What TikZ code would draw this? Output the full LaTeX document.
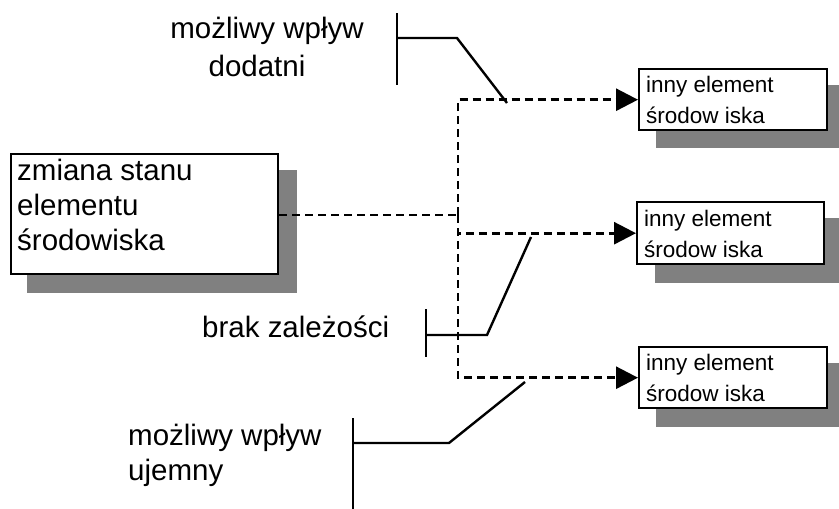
\documentclass[tikz,border=0pt]{standalone}
\usepackage{fontspec}
\setmainfont{Liberation Sans}
\usetikzlibrary{arrows.meta}
\newcommand\bigtxt{\fontsize{29.5}{35}\selectfont}
\newcommand\smalltxt{\fontsize{22.5}{31}\selectfont}
\tikzset{
  shadowbox/.style={fill=black!50,draw=none},
  bigbox/.style={draw=black,line width=2.4pt,fill=white,inner sep=0pt,anchor=north west},
  smallbox/.style={draw=black,line width=2.4pt,fill=white,inner sep=0pt,anchor=north west,minimum width=188pt,minimum height=61pt},
  btext/.style={inner sep=0pt,anchor=base west,font=\bigtxt},
  stext/.style={inner sep=0pt,anchor=base west,font=\smalltxt},
  flow/.style={line width=2.8pt,dash pattern=on 8pt off 5pt},
  flowarrow/.style={flow,-{Triangle[length=22pt,width=22pt]}},
  leader/.style={line width=2.4pt}
}
\begin{document}
\begin{tikzpicture}[x=1pt,y=-1pt]
\useasboundingbox (0,0) rectangle (839,509);
% shadows
\fill[shadowbox] (27,170) rectangle (297,293);
\fill[shadowbox] (656,85) rectangle (845,148);
\fill[shadowbox] (655,218) rectangle (845,283);
\fill[shadowbox] (656,363) rectangle (845,427);
% main box
\node[bigbox,minimum width=267pt,minimum height=120pt] (main) at (10,153) {};
\node[btext] (m1) at (17,180) {zmiana stanu};
\node[btext] (m2) at (17,215) {elementu};
\node[btext] (m3) at (17,250) {środowiska};
% small boxes
\node[smallbox] (b1) at (638,68) {};
\node[stext] (b1a) at (646,92) {inny element};
\node[stext] (b1b) at (646,123) {środow iska};
\node[smallbox,minimum width=187pt,minimum height=62pt] (b2) at (636,201) {};
\node[stext] (b2a) at (644,226) {inny element};
\node[stext] (b2b) at (644,257) {środow iska};
\node[smallbox] (b3) at (638,346) {};
\node[stext] (b3a) at (646,370) {inny element};
\node[stext] (b3b) at (646,401) {środow iska};
% dashed connectors
\coordinate (j) at (458,215);
\draw[flow] (main.east |- j) -- (j);
\draw[flowarrow] (j) |- (b1.west);
\draw[flowarrow] (j) |- (b2.west);
\draw[flowarrow] (j) |- (b3.west);
% label 1
\node[inner sep=0pt,anchor=base,font=\bigtxt] (l1a) at (267,38) {możliwy wpływ};
\node[inner sep=0pt,anchor=base,font=\bigtxt] (l1b) at (257,76) {dodatni};
\coordinate (t1) at (397,13);
\coordinate (u1) at (397,85);
\coordinate (h1) at (397,38);
\coordinate (k1) at (457,38);
\coordinate (e1) at (507,103);
\draw[leader] (t1) -- (u1);
\draw[leader] (h1) -- (k1) -- (e1);
% label 2
\node[btext] (l2) at (202,337) {brak zależości};
\coordinate (t2) at (426,309);
\coordinate (u2) at (426,357);
\coordinate (h2) at (426,335);
\coordinate (k2) at (487,335);
\coordinate (e2) at (531,237);
\draw[leader] (t2) -- (u2);
\draw[leader] (h2) -- (k2) -- (e2);
% label 3
\node[btext] (l3a) at (128,445) {możliwy wpływ};
\node[btext] (l3b) at (128,480) {ujemny};
\coordinate (t3) at (353,418);
\coordinate (u3) at (353,512);
\coordinate (h3) at (353,443);
\coordinate (k3) at (449,443);
\coordinate (e3) at (525,382);
\draw[leader] (t3) -- (u3);
\draw[leader] (h3) -- (k3) -- (e3);
\end{tikzpicture}
\end{document}
